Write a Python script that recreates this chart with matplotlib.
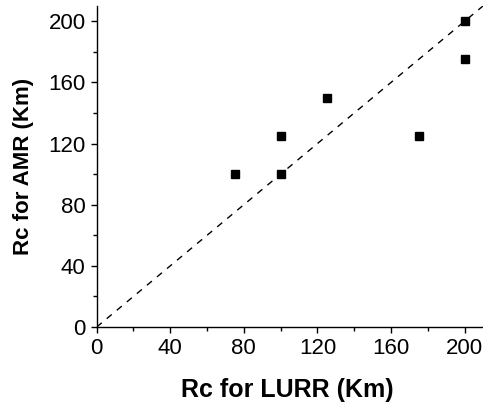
import numpy as np
import matplotlib.pyplot as plt
from matplotlib.ticker import MultipleLocator

# data
rc_lurr = [75, 100, 100, 125, 175, 200, 200]
rc_amr = [100, 125, 100, 150, 125, 200, 175]
diag = [0, 210]

plt.rcParams['font.family'] = ['Liberation Sans', 'DejaVu Sans']

fig = plt.figure(figsize=(4.83, 4.07), dpi=100)
ax = fig.add_axes([0.2002, 0.1966, 0.7998, 0.7887])

ax.plot(diag, diag, '--', color='black', linewidth=1.0, dashes=(4.7, 4.7))
ax.plot(rc_lurr, rc_amr, 's', color='black', markersize=6.2, linestyle='none')

ax.set_xlim(0, 210)
ax.set_ylim(0, 210)
ax.xaxis.set_major_locator(MultipleLocator(40))
ax.yaxis.set_major_locator(MultipleLocator(40))
ax.xaxis.set_minor_locator(MultipleLocator(20))
ax.yaxis.set_minor_locator(MultipleLocator(20))

for s in ['top', 'right']:
    ax.spines[s].set_visible(False)
for s in ['left', 'bottom']:
    ax.spines[s].set_linewidth(1.0)

ax.tick_params(which='major', direction='out', length=4.5, width=1, labelsize=16, pad=3.5)
ax.tick_params(which='minor', direction='out', length=3, width=1)

ax.set_xlabel('Rc for LURR (Km)', fontsize=18, fontweight='bold')
ax.set_ylabel('Rc for AMR (Km)', fontsize=16, fontweight='bold')
ax.xaxis.set_label_coords(0.4926, -0.159)
ax.yaxis.set_label_coords(-0.162, 0.5)

fig.savefig('out.png', dpi=100)
